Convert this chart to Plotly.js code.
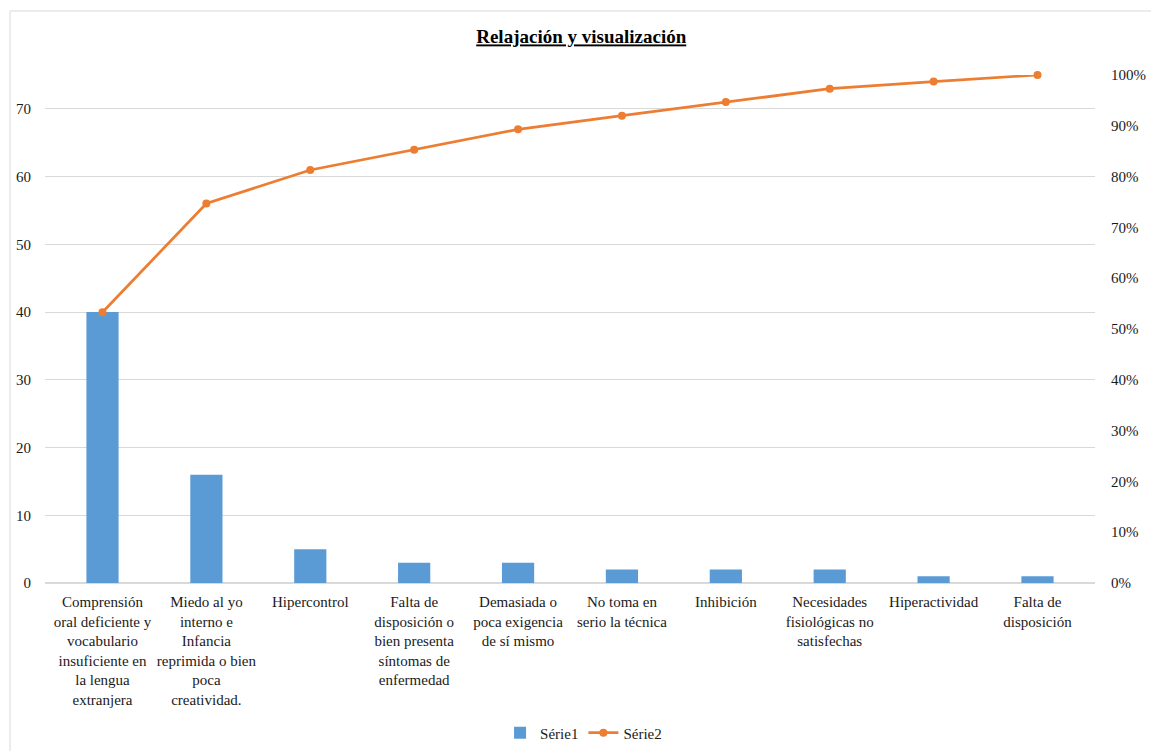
<!DOCTYPE html>
<html>
<head>
<meta charset="utf-8">
<script src="https://cdn.plot.ly/plotly-3.0.1.min.js"></script>
<style>
html,body{margin:0;padding:0;background:#fff;}
#chart{width:1151px;height:751px;}
#chart svg text{font-family:'Liberation Serif','Times New Roman',serif !important;}
</style>
</head>
<body>
<div id="chart"></div>
<script>
const categories = [
  "Comprensión<br>oral deficiente y<br>vocabulario<br>insuficiente en<br>la lengua<br>extranjera",
  "Miedo al yo<br>interno e<br>Infancia<br>reprimida o bien<br>poca<br>creatividad.",
  "Hipercontrol",
  "Falta de<br>disposición o<br>bien presenta<br>síntomas de<br>enfermedad",
  "Demasiada o<br>poca exigencia<br>de sí mismo",
  "No toma en<br>serio la técnica",
  "Inhibición",
  "Necesidades<br>fisiológicas no<br>satisfechas",
  "Hiperactividad",
  "Falta de<br>disposición"
];
const serie1 = [40, 16, 5, 3, 3, 2, 2, 2, 1, 1];
const serie2 = [0.533, 0.747, 0.813, 0.853, 0.893, 0.92, 0.947, 0.973, 0.987, 1.0];
const seriesNames = ["Série1", "Série2"];
const titleText = "Relajación y visualización";

const FAMILY = "Liberation Serif";
function mkFont(size, color) { return {family: FAMILY, size: size, color: color}; }

const traces = [
  {
    type: "bar", x: categories, y: serie1, name: seriesNames[0],
    marker: {color: "#5B9BD5"}, width: 0.31, yaxis: "y"
  },
  {
    type: "scatter", mode: "lines+markers", x: categories, y: serie2, name: seriesNames[1],
    line: {color: "#ED7D31", width: 2.75}, marker: {color: "#ED7D31", size: 8}, yaxis: "y2",
    cliponaxis: false
  }
];

const layout = {
  width: 1151, height: 751,
  margin: {l: 45, r: 56, t: 75, b: 168},
  paper_bgcolor: "#fff", plot_bgcolor: "#fff",
  font: mkFont(15, "#1a1a1a"),
  showlegend: true,
  title: {
    text: "<b><u>" + titleText + "</u></b>",
    font: mkFont(19, "#000"),
    xref: "container", x: 0.505, xanchor: "center",
    yref: "container", y: 0.951, yanchor: "middle"
  },
  xaxis: {
    type: "category", showgrid: false, showline: false, zeroline: false,
    ticks: "", tickangle: 0, tickfont: mkFont(15, "#1a1a1a"), automargin: false, ticklabelstandoff: 8
  },
  yaxis: {
    range: [0, 75], dtick: 10, tick0: 0, showgrid: true, gridcolor: "#d9d9d9", gridwidth: 1,
    zeroline: true, zerolinecolor: "#d9d9d9", zerolinewidth: 1.5,
    showline: false, ticks: "outside", ticklen: 10, tickcolor: "rgba(0,0,0,0)",
    tickfont: mkFont(15, "#1a1a1a"), automargin: false, fixedrange: true
  },
  yaxis2: {
    overlaying: "y", side: "right", range: [0, 1], dtick: 0.1, tick0: 0, tickformat: ".0%",
    showgrid: false, zeroline: false, showline: false,
    ticks: "outside", ticklen: 12, tickcolor: "rgba(0,0,0,0)",
    tickfont: mkFont(15, "#1a1a1a"), automargin: false
  },
  legend: {
    orientation: "h", xref: "container", x: 0.507, xanchor: "center",
    yref: "container", y: 0.024, yanchor: "middle",
    font: mkFont(15, "#1a1a1a"), bgcolor: "rgba(0,0,0,0)", traceorder: "normal"
  },
  shapes: [{
    type: "rect", xref: "paper", yref: "paper",
    x0: -0.0333, x1: 1.2, y0: -0.5, y1: 1.126,
    line: {color: "#d9d9d9", width: 1}, fillcolor: "rgba(0,0,0,0)", layer: "below"
  }]
};

Plotly.newPlot("chart", traces, layout, {displayModeBar: false});
</script>
</body>
</html>
